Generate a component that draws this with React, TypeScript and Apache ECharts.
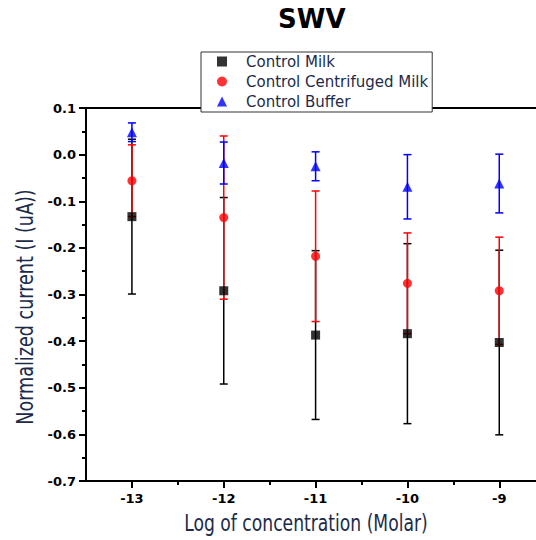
import React, { useEffect, useRef } from "react";
import * as echarts from "echarts";

const conc = [-13, -12, -11, -10, -9];
const milk = [-0.133, -0.292, -0.387, -0.384, -0.403];
const milkErr = [0.166, 0.2, 0.181, 0.193, 0.198];
const centrifuged = [-0.056, -0.135, -0.218, -0.276, -0.292];
const centrifugedErr = [0.077, 0.175, 0.14, 0.108, 0.115];
const buffer = [0.048, -0.018, -0.025, -0.069, -0.062];
const bufferErr = [0.02, 0.045, 0.031, 0.069, 0.063];

const majorTicks = [-13, -12, -11, -10, -9];
const minorTicks = [-12.5, -11.5, -10.5, -9.5, -8.5];

const names = ["Control Milk", "Control Centrifuged Milk", "Control Buffer"];
const colors = ["#000000", "#ff0000", "#0000ff"];
const symbols = ["rect", "circle", "triangle"];
const symbolSizes = [9, 9, 10];

const xTitle = "Log of concentration (Molar)";
const yTitle = "Normalized current (I (uA))";

const navy = "#1c2b4a";

export default function App() {
  const ref = useRef<HTMLDivElement>(null);
  useEffect(() => {
    if (!ref.current) return;
    const chart = echarts.init(ref.current, null, { renderer: "svg" });
    const sets = [
      { vals: milk, errs: milkErr },
      { vals: centrifuged, errs: centrifugedErr },
      { vals: buffer, errs: bufferErr },
    ];
    const series: any[] = [];
    sets.forEach((s, i) => {
      const color = colors[i];
      series.push({
        type: "custom",
        name: names[i] + " error",
        xAxisIndex: 0,
        yAxisIndex: 0,
        encode: { x: 0, y: 1 },
        data: conc.map((c, k) => [c, s.vals[k], s.errs[k]]),
        renderItem: (params: any, api: any) => {
          const x = api.value(0);
          const y = api.value(1);
          const e = api.value(2);
          const hi = api.coord([x, y + e]);
          const lo = api.coord([x, y - e]);
          const cap = 4;
          const st = { stroke: color, lineWidth: 1.5 };
          return {
            type: "group",
            children: [
              { type: "line", shape: { x1: hi[0], y1: hi[1], x2: lo[0], y2: lo[1] }, style: st },
              { type: "line", shape: { x1: hi[0] - cap, y1: hi[1], x2: hi[0] + cap, y2: hi[1] }, style: st },
              { type: "line", shape: { x1: lo[0] - cap, y1: lo[1], x2: lo[0] + cap, y2: lo[1] }, style: st },
            ],
          };
        },
      });
      series.push({
        type: "scatter",
        name: names[i],
        xAxisIndex: 0,
        yAxisIndex: 0,
        symbol: symbols[i],
        symbolSize: symbolSizes[i],
        itemStyle: { color },
        data: conc.map((c, k) => [c, s.vals[k]]),
      });
    });

    const titleFont = "23px 'DejaVu Sans Condensed', 'DejaVu Sans', sans-serif";

    const option: any = {
      animation: false,
      backgroundColor: "#ffffff",
      title: {
        text: "SWV",
        left: 278,
        top: 6,
        padding: 0,
        textStyle: { fontFamily: "DejaVu Sans", fontWeight: "bold", fontSize: 26, color: "#000" },
      },
      legend: {
        data: names.map((n, i) => ({ name: n, icon: symbols[i] })),
        orient: "vertical",
        left: 201,
        top: 52,
        padding: [2, 4, 3, 16],
        itemGap: 5,
        itemWidth: 10,
        itemHeight: 10,
        backgroundColor: "#ffffff",
        borderColor: "#333333",
        borderWidth: 1,
        borderRadius: 0,
        selectedMode: false,
        textStyle: {
          fontFamily: "DejaVu Sans, sans-serif",
          fontSize: 15,
          color: navy,
          padding: [0, 0, 0, 14],
        },
      },
      graphic: [
        {
          type: "text",
          x: 306,
          y: 523,
          scaleX: 0.83,
          style: { text: xTitle, font: titleFont, fill: navy, align: "center", verticalAlign: "middle" },
        },
        {
          type: "text",
          x: 25,
          y: 307,
          rotation: Math.PI / 2,
          scaleX: 0.85,
          style: { text: yTitle, font: titleFont, fill: navy, align: "center", verticalAlign: "middle" },
        },
      ],
      grid: { left: 86, top: 108, width: 452, height: 373, containLabel: false },
      xAxis: [
        {
          type: "value",
          position: "bottom",
          min: -13.5,
          max: -8.6,
          splitLine: { show: false },
          axisLine: { show: true, onZero: false, lineStyle: { color: "#000", width: 2 } },
          axisTick: { show: true, customValues: majorTicks, length: 7, lineStyle: { color: "#000", width: 2 } },
          axisLabel: {
            show: true,
            customValues: majorTicks,
            margin: 11,
            fontFamily: "DejaVu Sans",
            fontWeight: "bold",
            fontSize: 13,
            color: "#000",
            formatter: (v: number) => String(Math.round(v)),
          },
        },
        {
          type: "value",
          position: "bottom",
          min: -13.5,
          max: -8.6,
          splitLine: { show: false },
          axisLine: { show: false, onZero: false },
          axisTick: { show: true, customValues: minorTicks, length: 4, lineStyle: { color: "#000", width: 2 } },
          axisLabel: { show: false },
        },
        {
          type: "value",
          position: "top",
          min: -13.5,
          max: -8.6,
          splitLine: { show: false },
          axisLine: { show: true, onZero: false, lineStyle: { color: "#000", width: 2 } },
          axisTick: { show: false },
          axisLabel: { show: false },
        },
      ],
      yAxis: {
        type: "value",
        min: -0.7,
        max: 0.1,
        interval: 0.1,
        splitLine: { show: false },
        axisLine: { show: true, onZero: false, lineStyle: { color: "#000", width: 2 } },
        axisTick: { show: true, length: 7, lineStyle: { color: "#000", width: 2 } },
        minorTick: { show: true, splitNumber: 2, length: 4, lineStyle: { color: "#000", width: 2 } },
        axisLabel: {
          margin: 10,
          fontFamily: "DejaVu Sans",
          fontWeight: "bold",
          fontSize: 13,
          color: "#000",
          formatter: (v: number) => (Math.abs(v) < 1e-9 ? "0.0" : v.toFixed(1)),
        },
      },
      series,
    };
    chart.setOption(option);
    return () => chart.dispose();
  }, []);
  return (
    <div
      ref={ref}
      style={{ position: "fixed", left: 0, top: 0, width: 536, height: 540, background: "#fff" }}
    />
  );
}
